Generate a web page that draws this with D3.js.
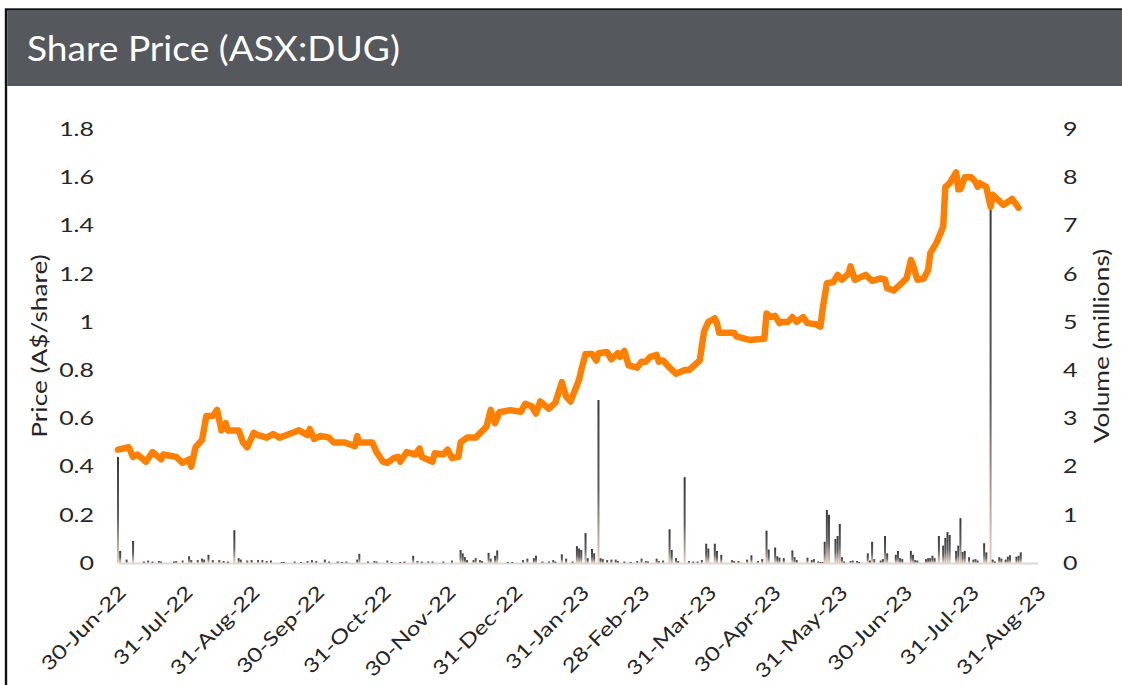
<!DOCTYPE html>
<html>
<head>
<meta charset="utf-8">
<script src="https://cdn.jsdelivr.net/npm/d3@7"></script>
<style>
  body { margin: 0; background: #fff; }
  text { font-family: Lato, "Open Sans", sans-serif; }
</style>
</head>
<body>
<script>

// share price (A$/share)
const priceDates = [
  "2022-06-30","2022-07-05","2022-07-07","2022-07-09","2022-07-13","2022-07-16","2022-07-20","2022-07-21","2022-07-27","2022-07-30",
  "2022-08-02","2022-08-03","2022-08-05","2022-08-08","2022-08-10","2022-08-13","2022-08-15","2022-08-17","2022-08-19","2022-08-20",
  "2022-08-25","2022-08-27","2022-08-29","2022-09-01","2022-09-03","2022-09-07","2022-09-10","2022-09-13","2022-09-16","2022-09-19",
  "2022-09-22","2022-09-26","2022-09-27","2022-09-29","2022-10-02","2022-10-06","2022-10-08","2022-10-13","2022-10-18","2022-10-19",
  "2022-10-20","2022-10-26","2022-10-28","2022-10-31","2022-11-02","2022-11-05","2022-11-07","2022-11-08","2022-11-11","2022-11-15",
  "2022-11-17","2022-11-18","2022-11-23","2022-11-24","2022-11-28","2022-11-30","2022-12-02","2022-12-05","2022-12-06","2022-12-09",
  "2022-12-13","2022-12-18","2022-12-20","2022-12-22","2022-12-24","2022-12-29","2023-01-03","2023-01-05","2023-01-08","2023-01-10",
  "2023-01-12","2023-01-16","2023-01-19","2023-01-22","2023-01-24","2023-01-26","2023-01-30","2023-01-31","2023-02-02","2023-02-05",
  "2023-02-07","2023-02-08","2023-02-12","2023-02-14","2023-02-17","2023-02-18","2023-02-20","2023-02-22","2023-02-26","2023-02-28",
  "2023-03-02","2023-03-04","2023-03-07","2023-03-08","2023-03-10","2023-03-13","2023-03-16","2023-03-20","2023-03-22","2023-03-27",
  "2023-03-29","2023-03-31","2023-04-03","2023-04-04","2023-04-05","2023-04-12","2023-04-13","2023-04-19","2023-04-26","2023-04-27",
  "2023-04-29","2023-05-01","2023-05-03","2023-05-04","2023-05-07","2023-05-09","2023-05-11","2023-05-14","2023-05-16","2023-05-20",
  "2023-05-22","2023-05-23","2023-05-25","2023-05-28","2023-05-30","2023-06-01","2023-06-04","2023-06-05","2023-06-07","2023-06-12",
  "2023-06-15","2023-06-19","2023-06-21","2023-06-22","2023-06-25","2023-06-28","2023-07-01","2023-07-03","2023-07-04","2023-07-06",
  "2023-07-09","2023-07-11","2023-07-12","2023-07-15","2023-07-18","2023-07-19","2023-07-21","2023-07-24","2023-07-25","2023-07-26",
  "2023-07-28","2023-07-31","2023-08-02","2023-08-03","2023-08-04","2023-08-07","2023-08-09","2023-08-10","2023-08-15","2023-08-19",
  "2023-08-22"
];
const prices = [
  0.47, 0.48, 0.44, 0.45, 0.42, 0.46, 0.43, 0.45, 0.44, 0.415,
  0.43, 0.40, 0.48, 0.51, 0.61, 0.61, 0.635, 0.55, 0.58, 0.55,
  0.55, 0.50, 0.48, 0.54, 0.53, 0.52, 0.535, 0.52, 0.53, 0.54,
  0.55, 0.53, 0.555, 0.515, 0.527, 0.52, 0.50, 0.50, 0.485, 0.527,
  0.50, 0.50, 0.46, 0.42, 0.415, 0.435, 0.44, 0.42, 0.46, 0.45,
  0.475, 0.44, 0.42, 0.455, 0.45, 0.47, 0.435, 0.44, 0.50, 0.52,
  0.52, 0.565, 0.635, 0.58, 0.625, 0.634, 0.627, 0.66, 0.65, 0.62,
  0.67, 0.64, 0.665, 0.75, 0.69, 0.67, 0.76, 0.80, 0.867, 0.867,
  0.84, 0.87, 0.875, 0.845, 0.87, 0.855, 0.88, 0.82, 0.81, 0.835,
  0.835, 0.855, 0.863, 0.835, 0.84, 0.81, 0.785, 0.80, 0.80, 0.84,
  0.96, 1.00, 1.015, 0.995, 0.955, 0.955, 0.94, 0.925, 0.93, 1.035,
  1.02, 1.025, 0.995, 1.00, 1.00, 1.02, 1.00, 1.02, 0.995, 0.99,
  0.98, 1.05, 1.16, 1.165, 1.195, 1.175, 1.20, 1.23, 1.175, 1.195,
  1.17, 1.18, 1.175, 1.14, 1.13, 1.155, 1.18, 1.257, 1.235, 1.175,
  1.18, 1.215, 1.285, 1.33, 1.395, 1.56, 1.575, 1.62, 1.55, 1.55,
  1.60, 1.60, 1.58, 1.56, 1.575, 1.56, 1.477, 1.527, 1.485, 1.51,
  1.473
];

// traded volume (millions)
const volDates = [
  "2022-06-30","2022-07-01","2022-07-04","2022-07-07","2022-07-12","2022-07-14","2022-07-16","2022-07-19","2022-07-20","2022-07-26",
  "2022-07-27","2022-07-30","2022-08-02","2022-08-03","2022-08-06","2022-08-08","2022-08-09","2022-08-11","2022-08-13","2022-08-16",
  "2022-08-18","2022-08-20","2022-08-23","2022-08-25","2022-08-26","2022-08-29","2022-08-31","2022-09-03","2022-09-05","2022-09-07",
  "2022-09-09","2022-09-14","2022-09-15","2022-09-20","2022-09-23","2022-09-26","2022-09-28","2022-09-30","2022-10-04","2022-10-06",
  "2022-10-10","2022-10-12","2022-10-14","2022-10-19","2022-10-20","2022-10-24","2022-10-27","2022-10-28","2022-11-02","2022-11-04",
  "2022-11-08","2022-11-10","2022-11-14","2022-11-16","2022-11-18","2022-11-21","2022-11-23","2022-11-28","2022-12-02","2022-12-06",
  "2022-12-07","2022-12-08","2022-12-09","2022-12-12","2022-12-13","2022-12-15","2022-12-16","2022-12-19","2022-12-20","2022-12-22",
  "2022-12-23","2022-12-28","2022-12-30","2023-01-04","2023-01-06","2023-01-09","2023-01-10","2023-01-13","2023-01-16","2023-01-18",
  "2023-01-19","2023-01-22","2023-01-24","2023-01-27","2023-01-29","2023-01-30","2023-01-31","2023-02-02","2023-02-03","2023-02-05",
  "2023-02-06","2023-02-08","2023-02-09","2023-02-10","2023-02-12","2023-02-14","2023-02-16","2023-02-17","2023-02-20","2023-02-23",
  "2023-02-26","2023-02-28","2023-03-02","2023-03-03","2023-03-07","2023-03-08","2023-03-10","2023-03-13","2023-03-14","2023-03-16",
  "2023-03-17","2023-03-20","2023-03-22","2023-03-24","2023-03-26","2023-03-28","2023-03-30","2023-03-31","2023-04-03","2023-04-04",
  "2023-04-06","2023-04-11","2023-04-12","2023-04-14","2023-04-18","2023-04-20","2023-04-23","2023-04-25","2023-04-27","2023-04-28",
  "2023-05-01","2023-05-02","2023-05-03","2023-05-05","2023-05-09","2023-05-10","2023-05-11","2023-05-16","2023-05-18","2023-05-19",
  "2023-05-21","2023-05-22","2023-05-23","2023-05-24","2023-05-25","2023-05-26","2023-05-29","2023-05-30","2023-05-31","2023-06-01",
  "2023-06-02","2023-06-05","2023-06-06","2023-06-08","2023-06-09","2023-06-13","2023-06-14","2023-06-15","2023-06-16","2023-06-19",
  "2023-06-20","2023-06-21","2023-06-22","2023-06-26","2023-06-27","2023-06-28","2023-06-29","2023-07-03","2023-07-04","2023-07-05",
  "2023-07-06","2023-07-10","2023-07-11","2023-07-12","2023-07-13","2023-07-14","2023-07-16","2023-07-18","2023-07-19","2023-07-20",
  "2023-07-21","2023-07-24","2023-07-25","2023-07-26","2023-07-27","2023-07-28","2023-07-30","2023-08-01","2023-08-02","2023-08-03",
  "2023-08-06","2023-08-07","2023-08-09","2023-08-10","2023-08-11","2023-08-13","2023-08-14","2023-08-16","2023-08-17","2023-08-18",
  "2023-08-21","2023-08-22","2023-08-23"
];
const volumes = [
  2.2, 0.25, 0.07, 0.46, 0.03, 0.05, 0.03, 0.04, 0.03, 0.03,
  0.04, 0.05, 0.14, 0.06, 0.06, 0.09, 0.07, 0.17, 0.06, 0.06,
  0.04, 0.03, 0.68, 0.1, 0.07, 0.05, 0.06, 0.06, 0.06, 0.04,
  0.05, 0.02, 0.02, 0.03, 0.02, 0.04, 0.06, 0.04, 0.07, 0.03,
  0.03, 0.02, 0.03, 0.07, 0.19, 0.03, 0.04, 0.03, 0.05, 0.02,
  0.02, 0.03, 0.15, 0.04, 0.03, 0.03, 0.03, 0.03, 0.05, 0.27,
  0.2, 0.12, 0.06, 0.06, 0.1, 0.06, 0.04, 0.21, 0.09, 0.15,
  0.26, 0.02, 0.02, 0.06, 0.09, 0.1, 0.15, 0.03, 0.03, 0.06,
  0.03, 0.18, 0.09, 0.03, 0.35, 0.3, 0.27, 0.62, 0.1, 0.29,
  0.2, 3.38, 0.1, 0.08, 0.06, 0.07, 0.07, 0.04, 0.03, 0.02,
  0.04, 0.09, 0.04, 0.03, 0.09, 0.04, 0.05, 0.7, 0.27, 0.1,
  0.04, 1.78, 0.04, 0.03, 0.03, 0.06, 0.4, 0.3, 0.4, 0.25,
  0.17, 0.06, 0.04, 0.04, 0.07, 0.16, 0.04, 0.08, 0.67, 0.28,
  0.32, 0.14, 0.11, 0.1, 0.26, 0.12, 0.06, 0.11, 0.06, 0.08,
  0.03, 0.02, 0.02, 0.44, 1.1, 1.0, 0.5, 0.56, 0.81, 0.12,
  0.03, 0.04, 0.05, 0.04, 0.02, 0.2, 0.05, 0.44, 0.08, 0.05,
  0.08, 0.56, 0.2, 0.17, 0.25, 0.1, 0.08, 0.25, 0.17, 0.06,
  0.05, 0.08, 0.1, 0.1, 0.15, 0.1, 0.56, 0.36, 0.52, 0.64,
  0.58, 0.25, 0.36, 0.93, 0.23, 0.25, 0.12, 0.07, 0.08, 0.05,
  0.41, 0.22, 7.38, 0.07, 0.03, 0.12, 0.09, 0.07, 0.13, 0.16,
  0.13, 0.15, 0.22
];

// axis ticks
const dateTicks = ["2022-06-30","2022-07-31","2022-08-31","2022-09-30","2022-10-31","2022-11-30","2022-12-31",
                   "2023-01-31","2023-02-28","2023-03-31","2023-04-30","2023-05-31","2023-06-30","2023-07-31","2023-08-31"];
const priceTicks = [0, 0.2, 0.4, 0.6, 0.8, 1, 1.2, 1.4, 1.6, 1.8];
const volumeTicks = [0, 1, 2, 3, 4, 5, 6, 7, 8, 9];

const width = 1122;
const height = 685;
const plot = {left: 118, right: 1038, top: 129, bottom: 563};
const stretch = 1.25; // chart font is wide, so stretch glyphs along the text
const textColor = "#262626";

const parse = d3.timeParse("%Y-%m-%d");

const svg = d3.select("body").append("svg")
    .attr("width", width)
    .attr("height", height);

svg.append("rect")
    .attr("width", width)
    .attr("height", height)
    .attr("fill", "#fff");

// frame + header bar
svg.append("rect")
    .attr("x", 6)
    .attr("y", 9.5)
    .attr("width", width + 20)
    .attr("height", height + 20)
    .attr("fill", "none")
    .attr("stroke", "#111")
    .attr("stroke-width", 2.4);

svg.append("rect")
    .attr("x", 7.2)
    .attr("y", 10.7)
    .attr("width", width)
    .attr("height", 75.3)
    .attr("fill", "#55585d");

const title = svg.append("text")
    .attr("fill", "#fff")
    .style("font-size", "35px")
    .text("Share Price (ASX:DUG)");
const titleLen = title.node().getComputedTextLength();
title.attr("transform", `translate(27,61) scale(${373 / titleLen},1)`);

// scales
const x = d3.scaleTime()
    .domain([parse(dateTicks[0]), parse(dateTicks[dateTicks.length - 1])])
    .range([plot.left, plot.right]);
const yPrice = d3.scaleLinear().domain([0, 1.8]).range([plot.bottom, plot.top]);
const yVol = d3.scaleLinear().domain([0, 9]).range([plot.bottom, plot.top]);

// gradient for the volume sticks
const grad = svg.append("defs").append("linearGradient")
    .attr("id", "volGrad")
    .attr("x1", 0).attr("y1", 0).attr("x2", 0).attr("y2", 1);
grad.append("stop").attr("offset", "0%").attr("stop-color", "#3a3a3c");
grad.append("stop").attr("offset", "55%").attr("stop-color", "#5e5e60");
grad.append("stop").attr("offset", "100%").attr("stop-color", "#ecd2bd");

// x axis (the light grey baseline)
const xAxis = svg.append("g")
    .attr("transform", `translate(0,${plot.bottom})`)
    .call(d3.axisBottom(x)
      .tickValues(dateTicks.map(parse))
      .tickSize(0)
      .tickFormat(d3.timeFormat("%d-%b-%y")));

xAxis.select(".domain")
    .attr("stroke", "#d9d9d9")
    .attr("stroke-width", 2.2);

xAxis.selectAll("text")
    .attr("x", 0)
    .attr("y", 0)
    .attr("dy", "0.35em")
    .attr("text-anchor", "end")
    .attr("fill", textColor)
    .style("font-size", "19.5px")
    .attr("transform", `translate(4,26) rotate(-45) scale(${stretch},1)`);

// left axis
const leftAxis = svg.append("g")
    .attr("transform", `translate(${plot.left},0)`)
    .call(d3.axisLeft(yPrice)
      .tickValues(priceTicks)
      .tickSize(0)
      .tickFormat(d3.format("~g")));
leftAxis.select(".domain").remove();
leftAxis.selectAll("text")
    .attr("x", -24 / stretch)
    .attr("fill", textColor)
    .style("font-size", "20px")
    .attr("transform", `scale(${stretch},1)`);

// right axis
const rightAxis = svg.append("g")
    .attr("transform", `translate(${plot.right},0)`)
    .call(d3.axisRight(yVol)
      .tickValues(volumeTicks)
      .tickSize(0)
      .tickFormat(d3.format("d")));
rightAxis.select(".domain").remove();
rightAxis.selectAll("text")
    .attr("x", 25 / stretch)
    .attr("fill", textColor)
    .style("font-size", "20px")
    .attr("transform", `scale(${stretch},1)`);

// axis titles
svg.append("text")
    .attr("text-anchor", "middle")
    .attr("dy", "0.3em")
    .attr("fill", textColor)
    .style("font-size", "21px")
    .attr("transform", `translate(41,${(plot.top + plot.bottom) / 2}) rotate(-90) scale(${stretch},1)`)
    .text("Price (A$/share)");

svg.append("text")
    .attr("text-anchor", "middle")
    .attr("dy", "0.3em")
    .attr("fill", textColor)
    .style("font-size", "21px")
    .attr("transform", `translate(1103,${(plot.top + plot.bottom) / 2}) rotate(-90) scale(${stretch},1)`)
    .text("Volume (millions)");

// volume sticks
const volData = volDates.map((d, i) => ({date: parse(d), value: volumes[i]}));
svg.append("g")
  .selectAll("rect")
  .data(volData)
  .enter()
  .append("rect")
    .attr("x", d => x(d.date) - 1)
    .attr("width", 2)
    .attr("y", d => yVol(d.value))
    .attr("height", d => plot.bottom - yVol(d.value))
    .attr("fill", "url(#volGrad)");

// price line
const priceData = priceDates.map((d, i) => ({date: parse(d), value: prices[i]}));
svg.append("path")
    .datum(priceData)
    .attr("fill", "none")
    .attr("stroke", "#ff8000")
    .attr("stroke-width", 6.5)
    .attr("stroke-linejoin", "round")
    .attr("stroke-linecap", "round")
    .attr("d", d3.line().x(d => x(d.date)).y(d => yPrice(d.value)));

</script>
</body>
</html>
